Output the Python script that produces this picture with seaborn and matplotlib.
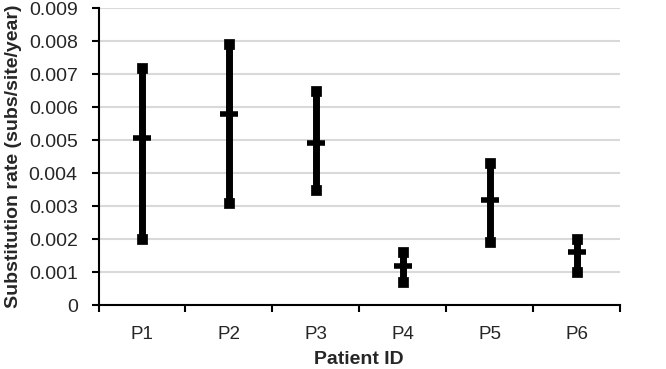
import pandas as pd
import numpy as np
import matplotlib
matplotlib.use("Agg")
import matplotlib.pyplot as plt
import seaborn as sns
from matplotlib.ticker import FixedLocator, FuncFormatter

patients = ["P1", "P2", "P3", "P4", "P5", "P6"]
rate_low = [0.0020, 0.0031, 0.0035, 0.0007, 0.0019, 0.0010]
rate_mean = [0.00505, 0.0058, 0.0049, 0.0012, 0.0032, 0.0016]
rate_high = [0.0072, 0.0079, 0.0065, 0.0016, 0.0043, 0.0020]

df = pd.DataFrame({
    "patient": patients * 3,
    "rate": rate_low + rate_mean + rate_high,
})
ends = pd.DataFrame({"patient": patients * 2, "rate": rate_low + rate_high})

sns.set_style("white")
plt.rcParams["font.family"] = ["Liberation Sans", "DejaVu Sans"]

fig = plt.figure(figsize=(6.66, 3.69), dpi=100)
ax = fig.add_axes([0.148, 0.173, 0.783, 0.805])

# median of (low, mean, high) = mean; 100% interval = low..high
sns.pointplot(data=df, x="patient", y="rate", order=patients, estimator="median",
              errorbar=("pi", 100), color="black", linestyle="none",
              marker="_", markersize=13, markeredgewidth=4,
              err_kws={"linewidth": 5}, ax=ax, zorder=3)
sns.scatterplot(data=ends, x="patient", y="rate", marker="s", s=42,
                color="black", edgecolor="black", ax=ax, zorder=4, legend=False)

ax.set_ylim(0, 0.009)
ax.set_xlim(-0.5, 5.5)
ax.yaxis.set_major_locator(FixedLocator(np.arange(0, 0.0091, 0.001)))
ax.yaxis.set_major_formatter(FuncFormatter(lambda v, p: "0" if abs(v) < 1e-9 else f"{v:.3f}"))
ax.grid(axis="y", color="#d9d9d9", linewidth=1.5, zorder=0)
ax.set_axisbelow(True)

ax.set_xticks(range(len(patients)))
ax.set_xticklabels(patients)
ax.set_xticks(np.arange(-0.5, 5.6, 1), minor=True)
ax.tick_params(axis="x", which="major", bottom=True, length=0, labelsize=13.5, pad=15)
ax.tick_params(axis="x", which="minor", bottom=True, length=5, width=1.5, direction="out", color="black")
ax.tick_params(axis="y", left=True, length=5, width=1.5, direction="out", labelsize=14, color="black", pad=10)

for s in ["top", "right"]:
    ax.spines[s].set_visible(False)
for s in ["left", "bottom"]:
    ax.spines[s].set_color("black")
    ax.spines[s].set_linewidth(1.5)

ax.set_xlabel("Patient ID", fontsize=14, fontweight="bold", labelpad=6)
ax.set_ylabel("Substitution rate (subs/site/year)", fontsize=14, fontweight="bold", labelpad=5)

fig.savefig("out.png", dpi=100)
